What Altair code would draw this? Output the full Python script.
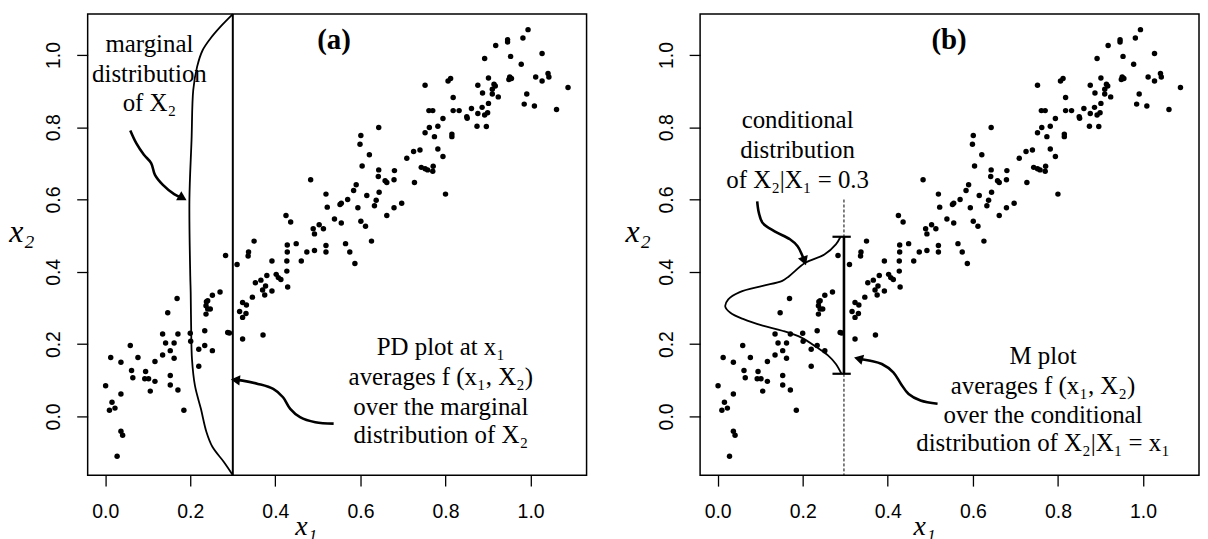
import altair as alt
import pandas as pd

# ---------------- data ----------------
x1 = [0.994, 0.946, 0.946, 0.982, 0.918, 1.027, 0.953, 0.892, 0.978, 1.088,
      1.041, 1.043, 1.012, 1.027, 0.951, 0.955, 0.949, 0.901, 0.914, 0.917,
      0.876, 0.910, 0.887, 0.924, 0.910, 0.991, 0.985, 1.009, 1.061, 0.901,
      0.861, 0.886, 0.876, 0.892, 0.899, 0.850, 0.851, 0.874, 0.896, 0.812,
      0.806, 0.752, 0.818, 0.818, 0.832, 0.761, 0.770, 0.794, 0.815, 0.815,
      0.782, 0.762, 0.752, 0.774, 0.782, 0.794, 0.740, 0.725, 0.709, 0.743,
      0.752, 0.758, 0.770, 0.771, 0.800, 0.727, 0.697, 0.679, 0.643, 0.601,
      0.599, 0.621, 0.604, 0.643, 0.642, 0.658, 0.679, 0.680, 0.662, 0.644,
      0.615, 0.637, 0.633, 0.594, 0.662, 0.590, 0.584, 0.570, 0.552, 0.555,
      0.601, 0.612, 0.626, 0.483, 0.519, 0.522, 0.539, 0.555, 0.503, 0.489,
      0.492, 0.513, 0.519, 0.519, 0.565, 0.575, 0.587, 0.425, 0.436, 0.350,
      0.337, 0.336, 0.283, 0.310, 0.428, 0.428, 0.449, 0.474, 0.492, 0.427,
      0.461, 0.392, 0.427, 0.380, 0.402, 0.407, 0.413, 0.353, 0.366, 0.377,
      0.370, 0.392, 0.375, 0.429, 0.346, 0.323, 0.332, 0.316, 0.331, 0.323,
      0.371, 0.323, 0.288, 0.292, 0.270, 0.252, 0.238, 0.241, 0.237, 0.241,
      0.237, 0.247, 0.169, 0.147, 0.234, 0.234, 0.252, 0.220, 0.201, 0.200,
      0.220, 0.171, 0.135, 0.142, 0.162, 0.153, 0.135, 0.162, 0.117, 0.077,
      0.059, 0.013, 0.037, 0.062, 0.065, 0.095, 0.093, 0.102, 0.117, 0.153,
      0.153, 0.171, 0.106, 0.001, 0.037, 0.016, 0.023, 0.010, 0.185, 0.037,
      0.041, 0.028]
x2 = [1.070, 1.042, 1.036, 1.047, 1.026, 1.004, 0.996, 0.990, 0.974, 0.910,
      0.949, 0.939, 0.939, 0.928, 0.939, 0.935, 0.932, 0.936, 0.919, 0.914,
      0.916, 0.905, 0.895, 0.884, 0.892, 0.892, 0.864, 0.859, 0.849, 0.866,
      0.852, 0.855, 0.838, 0.834, 0.840, 0.829, 0.825, 0.803, 0.802, 0.935,
      0.928, 0.916, 0.882, 0.846, 0.846, 0.846, 0.846, 0.824, 0.781, 0.774,
      0.803, 0.799, 0.785, 0.774, 0.740, 0.719, 0.737, 0.733, 0.714, 0.689,
      0.685, 0.682, 0.678, 0.692, 0.615, 0.647, 0.590, 0.577, 0.799, 0.777,
      0.753, 0.724, 0.693, 0.682, 0.664, 0.652, 0.655, 0.680, 0.647, 0.620,
      0.611, 0.598, 0.583, 0.577, 0.556, 0.641, 0.625, 0.600, 0.586, 0.590,
      0.540, 0.526, 0.485, 0.655, 0.615, 0.579, 0.546, 0.535, 0.530, 0.519,
      0.505, 0.519, 0.473, 0.455, 0.478, 0.455, 0.423, 0.556, 0.538, 0.485,
      0.455, 0.444, 0.445, 0.420, 0.474, 0.455, 0.478, 0.455, 0.459, 0.430,
      0.430, 0.430, 0.402, 0.390, 0.393, 0.384, 0.379, 0.370, 0.377, 0.361,
      0.350, 0.347, 0.336, 0.358, 0.330, 0.315, 0.308, 0.290, 0.285, 0.274,
      0.225, 0.214, 0.232, 0.231, 0.344, 0.335, 0.317, 0.320, 0.306, 0.297,
      0.283, 0.297, 0.326, 0.287, 0.237, 0.196, 0.182, 0.186, 0.208, 0.230,
      0.139, 0.228, 0.228, 0.203, 0.203, 0.182, 0.170, 0.161, 0.152, 0.163,
      0.196, 0.163, 0.150, 0.127, 0.107, 0.124, 0.104, 0.104, 0.097, 0.113,
      0.087, 0.073, 0.070, 0.085, 0.062, 0.039, 0.023, 0.017, 0.017, -0.041,
      -0.052, -0.110]

# (a) marginal density of X2, drawn sideways from x1 = 0.3
marg_x = [0.300, 0.279, 0.252, 0.238, 0.225, 0.211, 0.204, 0.202, 0.201, 0.200,
          0.198, 0.203, 0.207, 0.216, 0.229, 0.247, 0.270, 0.300]
marg_y = [-0.1625, -0.126, -0.084, -0.043, 0.021, 0.085, 0.159, 0.251, 0.343, 0.388,
          0.600, 0.765, 0.903, 0.967, 1.013, 1.045, 1.077, 1.113]
pd_line_x = [0.3]

# (b) conditional density of X2 | X1 = 0.3
cond_x = [0.291, 0.278, 0.260, 0.233, 0.197, 0.152, 0.106, 0.061, 0.030, 0.018,
          0.025, 0.052, 0.106, 0.152, 0.168, 0.206, 0.251, 0.278, 0.289]
cond_y = [0.118, 0.145, 0.168, 0.191, 0.218, 0.237, 0.251, 0.269, 0.287, 0.304,
          0.324, 0.344, 0.361, 0.375, 0.388, 0.425, 0.448, 0.476, 0.497]
cond_at = [0.297]
cond_lo = [0.118]
cond_hi = [0.497]
cap_lo = [0.270]
cap_hi = [0.313]
dash_top = [0.60]

# arrows (curly)
arr_a1_x = [0.059, 0.073, 0.091, 0.108, 0.117, 0.135, 0.162, 0.180]
arr_a1_y = [0.791, 0.756, 0.724, 0.701, 0.668, 0.641, 0.615, 0.605]
arr_a2_x = [0.537, 0.494, 0.458, 0.435, 0.418, 0.395, 0.359, 0.323, 0.305]
arr_a2_y = [-0.020, -0.016, -0.002, 0.021, 0.053, 0.076, 0.090, 0.099, 0.101]
arr_b1_x = [0.093, 0.097, 0.106, 0.134, 0.170, 0.188, 0.198, 0.203]
arr_b1_y = [0.595, 0.563, 0.535, 0.512, 0.490, 0.471, 0.448, 0.432]
arr_b2_x = [0.517, 0.477, 0.449, 0.431, 0.413, 0.386, 0.359, 0.335]
arr_b2_y = [0.035, 0.044, 0.062, 0.090, 0.122, 0.145, 0.154, 0.159]
heads_a_x = [0.182, 0.306]
heads_a_y = [0.604, 0.101]
heads_b_x = [0.204, 0.331]
heads_b_y = [0.430, 0.160]

# annotation texts
txt_a = ["marginal", "distribution", "of X\u2082",
         "PD plot at x\u2081", "averages f (x\u2081, X\u2082)",
         "over the marginal", "distribution of X\u2082"]
txt_a_x = [0.104, 0.104, 0.104, 0.789, 0.789, 0.789, 0.789]
txt_a_y = [1.031, 0.948, 0.866, 0.191, 0.108, 0.026, -0.052]
txt_b = ["conditional", "distribution", "of X\u2082|X\u2081 = 0.3",
         "M plot", "averages f (x\u2081, X\u2082)",
         "over the conditional", "distribution of X\u2082|X\u2081 = x\u2081"]
txt_b_x = [0.188, 0.188, 0.188, 0.765, 0.765, 0.765, 0.765]
txt_b_y = [0.820, 0.737, 0.655, 0.168, 0.085, 0.003, -0.075]
panel_labels = ["(a)", "(b)"]
panel_label_x = [0.538, 0.544]
panel_label_y = [1.041, 1.041]

tick_vals = [0.0, 0.2, 0.4, 0.6, 0.8, 1.0]

# ---------------- chart ----------------
xs = alt.Scale(domain=[-0.0412, 1.1316], nice=False, zero=False)
ys = alt.Scale(domain=[-0.1625, 1.113], nice=False, zero=False)


def xenc(title_x):
    return alt.X("x1:Q", scale=xs,
                 axis=alt.Axis(values=tick_vals, format=".1f", title="x\u2081",
                               titleX=title_x, titleY=60, titleAlign="center",
                               titleBaseline="alphabetic", labelPadding=17))


def yenc(title_x):
    return alt.Y("x2:Q", scale=ys,
                 axis=alt.Axis(values=tick_vals, format=".1f", title="x\u2082",
                               labelAngle=270, labelAlign="center",
                               labelBaseline="bottom", labelPadding=13,
                               titleAngle=0, titleX=title_x, titleY=218,
                               titleAlign="center", titleBaseline="middle",
                               titleFontSize=32))


def path_df(xv, yv):
    return pd.DataFrame({"x1": xv, "x2": yv, "i": list(range(len(xv)))})


def curve(df, width):
    return alt.Chart(df).mark_line(color="black", strokeWidth=width,
                                   interpolate="catmull-rom").encode(
        x="x1:Q", y="x2:Q", order="i:Q")


def panel(idx, tx, ty):
    pts = alt.Chart(pd.DataFrame({"x1": x1, "x2": x2})).mark_circle(
        size=30, color="black", opacity=1).encode(x=xenc(tx), y=yenc(ty))
    lab = alt.Chart(pd.DataFrame({"x1": [panel_label_x[idx]],
                                  "x2": [panel_label_y[idx]],
                                  "t": [panel_labels[idx]]})).mark_text(
        font="Liberation Serif", fontSize=29, fontWeight="bold",
        color="black").encode(x="x1:Q", y="x2:Q", text="t:N")
    return pts, lab


def texts(t, xv, yv):
    return alt.Chart(pd.DataFrame({"x1": xv, "x2": yv, "t": t})).mark_text(
        font="Liberation Serif", fontSize=25, color="black",
        align="center", baseline="middle").encode(x="x1:Q", y="x2:Q", text="t:N")


def heads(xv, yv, angles):
    layers = []
    for xx, yy, ang in zip(xv, yv, angles):
        layers.append(alt.Chart(pd.DataFrame({"x1": [xx], "x2": [yy]})).mark_point(
            shape="triangle-right", filled=True, color="black", opacity=1,
            size=110, angle=ang).encode(x="x1:Q", y="x2:Q"))
    return layers


# panel (a)
pts_a, lab_a = panel(0, 219, -66.5)
vline_a = alt.Chart(pd.DataFrame({"x1": pd_line_x})).mark_rule(
    color="black", strokeWidth=2).encode(x="x1:Q")
layer_a = alt.layer(
    pts_a,
    vline_a,
    curve(path_df(marg_x, marg_y), 1.8),
    curve(path_df(arr_a1_x, arr_a1_y), 2.6),
    curve(path_df(arr_a2_x, arr_a2_y), 2.6),
    *heads(heads_a_x, heads_a_y, [30, 186]),
    texts(txt_a, txt_a_x, txt_a_y),
    lab_a,
).properties(width=501, height=463)

# panel (b)
pts_b, lab_b = panel(1, 225, -62.7)
dash_b = alt.Chart(pd.DataFrame({"x1": cond_at, "x2": dash_top,
                                 "lo": [ys.domain[0]]})).mark_rule(
    color="black", strokeWidth=1, strokeDash=[3, 2]).encode(
    x="x1:Q", y="x2:Q", y2="lo:Q")
seg_b = alt.Chart(pd.DataFrame({"x1": cond_at, "x2": cond_lo, "hi": cond_hi})).mark_rule(
    color="black", strokeWidth=2.6).encode(x="x1:Q", y="x2:Q", y2="hi:Q")
caps_b = alt.Chart(pd.DataFrame({"x1": cap_lo * 2, "xe": cap_hi * 2,
                                 "x2": cond_lo + cond_hi})).mark_rule(
    color="black", strokeWidth=2.2).encode(x="x1:Q", x2="xe:Q", y="x2:Q")
layer_b = alt.layer(
    pts_b,
    dash_b,
    seg_b,
    caps_b,
    curve(path_df(cond_x, cond_y), 1.8),
    curve(path_df(arr_b1_x, arr_b1_y), 2.6),
    curve(path_df(arr_b2_x, arr_b2_y), 2.6),
    *heads(heads_b_x, heads_b_y, [70, 195]),
    texts(txt_b, txt_b_x, txt_b_y),
    lab_b,
).properties(width=501, height=463)

chart = alt.hconcat(layer_a, layer_b, spacing=36).properties(
    padding=0
).configure_view(
    stroke="black", strokeWidth=1.5
).configure_axis(
    grid=False, domain=False,
    labelFont="Liberation Sans", labelFontSize=19.5, labelColor="black",
    tickColor="black", tickSize=11, tickWidth=1.3,
    titleFont="Liberation Serif", titleFontStyle="italic",
    titleFontWeight="normal", titleFontSize=28, titleColor="black",
)

chart.save("out.html", embed_options={"renderer": "svg", "actions": False})
